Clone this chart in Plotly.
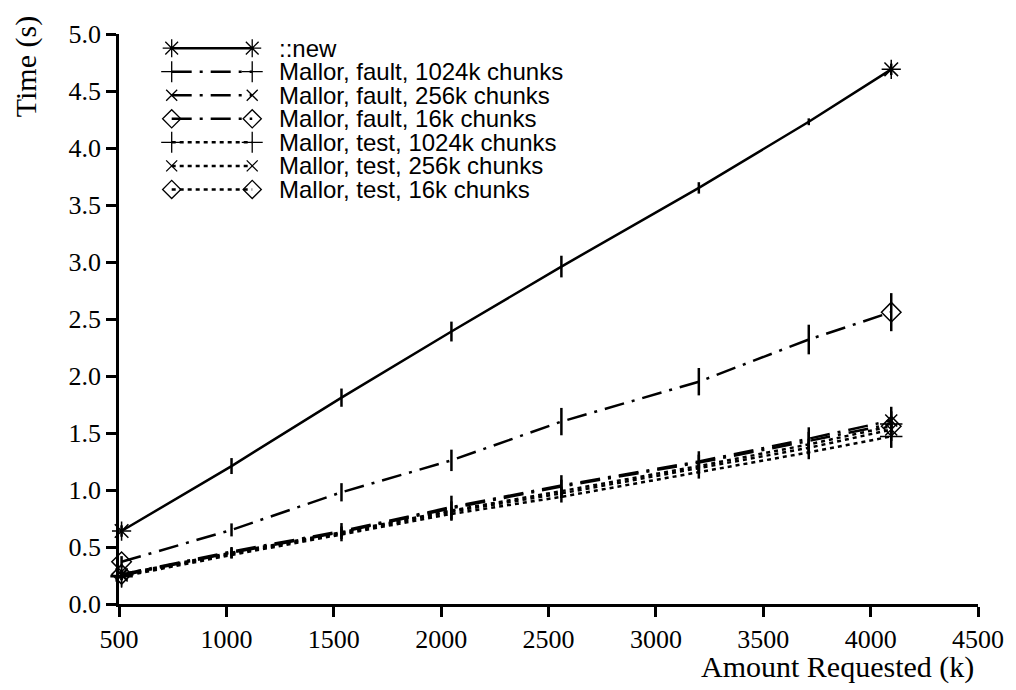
import plotly.graph_objects as go

# ---------------- data ----------------
amount_k = [512, 1024, 1536, 2048, 2560, 3200, 3712, 4096]

series_names = [
    "::new",
    "Mallor, fault, 1024k chunks",
    "Mallor, fault, 256k chunks",
    "Mallor, fault, 16k chunks",
    "Mallor, test, 1024k chunks",
    "Mallor, test, 256k chunks",
    "Mallor, test, 16k chunks",
]

t_new = [0.64, 1.21, 1.81, 2.39, 2.96, 3.65, 4.23, 4.69]
t_fault_1024 = [0.25, 0.45, 0.63, 0.84, 1.03, 1.24, 1.43, 1.58]
t_fault_256 = [0.26, 0.46, 0.64, 0.85, 1.04, 1.25, 1.45, 1.61]
t_fault_16 = [0.37, 0.65, 0.98, 1.26, 1.60, 1.95, 2.32, 2.56]
t_test_1024 = [0.24, 0.43, 0.61, 0.79, 0.94, 1.16, 1.33, 1.47]
t_test_256 = [0.25, 0.44, 0.62, 0.81, 0.97, 1.19, 1.37, 1.53]
t_test_16 = [0.26, 0.45, 0.63, 0.82, 0.99, 1.21, 1.40, 1.56]

e_new = [0.05, 0.07, 0.08, 0.087, 0.095, 0.05, 0.03, 0.05]
e_fault_1024 = [0.04, 0.05, 0.08, 0.11, 0.10, 0.10, 0.12, 0.15]
e_fault_256 = [0.03, 0.03, 0.04, 0.05, 0.05, 0.06, 0.06, 0.08]
e_fault_16 = [0.05, 0.057, 0.08, 0.094, 0.12, 0.12, 0.13, 0.167]
e_test_1024 = [0.03, 0.03, 0.04, 0.05, 0.05, 0.06, 0.06, 0.10]
e_test_256 = [0.02, 0.02, 0.03, 0.03, 0.04, 0.04, 0.05, 0.06]
e_test_16 = [0.02, 0.02, 0.03, 0.03, 0.04, 0.04, 0.05, 0.06]

series_values = [t_new, t_fault_1024, t_fault_256, t_fault_16,
                 t_test_1024, t_test_256, t_test_16]
series_errors = [e_new, e_fault_1024, e_fault_256, e_fault_16,
                 e_test_1024, e_test_256, e_test_16]

# ---------------- styles ----------------
DASHDOT = "20px,8px,3px,8px"
DOT = "4px,4px"
series_dash = ["solid", DASHDOT, DASHDOT, DASHDOT, DOT, DOT, DOT]
series_symbol = ["asterisk-open", "cross-thin-open", "x-thin-open", "diamond-open",
                 "cross-thin-open", "x-thin-open", "diamond-open"]
series_msize = [16, 16, 12, 15, 16, 12, 15]

# page body has an 8px margin; the figure is sized to fill the 1016x690 window
OFF = 8
W, H = 1016 - OFF, 690 - OFF
ML, MR, MT, MB = 119 - OFF, 33, 29 - OFF, 86
LW = 2.5
PX0, PX1 = ML + OFF, OFF + W - MR          # page pixel extent of the plot area
PY0, PY1 = OFF + MT, OFF + H - MB

fig = go.Figure()

for name, ys, es, dash, sym, ms in zip(series_names, series_values, series_errors,
                                       series_dash, series_symbol, series_msize):
    fig.add_trace(go.Scatter(
        x=amount_k, y=ys, mode="lines", name=name, showlegend=False,
        line=dict(color="black", width=LW, dash=dash),
        error_y=dict(type="data", array=es, width=0, thickness=2.5, color="black"),
        cliponaxis=False,
    ))
    fig.add_trace(go.Scatter(
        x=[amount_k[0], amount_k[-1]], y=[ys[0], ys[-1]], mode="markers",
        showlegend=False, cliponaxis=False,
        marker=dict(symbol=sym, size=ms, color="black",
                    line=dict(color="black", width=1.5)),
    ))

# ---------------- custom legend (page-pixel coordinates on hidden overlay axes) -------
LEG_X0, LEG_X1, LEG_TX = 172, 253, 278
LEG_Y0, LEG_DY = 43.3, 23.75
for i, (name, dash, sym, ms) in enumerate(zip(series_names, series_dash,
                                              series_symbol, series_msize)):
    yy = LEG_Y0 + i * LEG_DY
    fig.add_trace(go.Scatter(
        x=[LEG_X0, LEG_X1], y=[yy, yy], xaxis="x2", yaxis="y2",
        mode="lines+markers", showlegend=False, cliponaxis=False,
        line=dict(color="black", width=LW, dash=dash),
        marker=dict(symbol=sym, size=ms - 1, color="black",
                    line=dict(color="black", width=1.3)),
    ))
    fig.add_annotation(x=LEG_TX, y=yy, xref="x2", yref="y2", text=name,
                       showarrow=False, xanchor="left", yanchor="middle",
                       font=dict(family="Liberation Sans", size=24, color="black"))

serif = "Liberation Serif"
fig.update_layout(
    width=W, height=H,
    margin=dict(l=ML, r=MR, t=MT, b=MB),
    paper_bgcolor="white", plot_bgcolor="white",
    showlegend=False,
    xaxis=dict(range=[500, 4500], dtick=500, tick0=500, showgrid=False, zeroline=False,
               showline=True, linecolor="black", linewidth=LW,
               ticks="outside", ticklen=10, tickwidth=LW, tickcolor="black",
               tickfont=dict(family=serif, size=26, color="black")),
    yaxis=dict(range=[0, 5], dtick=0.5, tick0=0, tickformat=".1f", showgrid=False,
               zeroline=False, showline=True, linecolor="black", linewidth=LW,
               ticks="outside", ticklen=10, tickwidth=LW, tickcolor="black",
               tickfont=dict(family=serif, size=26, color="black")),
    xaxis2=dict(range=[PX0, PX1], overlaying="x", anchor="y2", visible=False),
    yaxis2=dict(range=[PY1, PY0], overlaying="y", anchor="x2", visible=False),
)


def to_paper(px, py):
    return (px - PX0) / (PX1 - PX0), (PY1 - py) / (PY1 - PY0)


tx, ty = to_paper(25, 62)
fig.add_annotation(text="Time (s)", xref="paper", yref="paper", x=tx, y=ty,
                   textangle=-90, showarrow=False, xanchor="center", yanchor="middle",
                   font=dict(family=serif, size=30, color="black"))
ax_, ay_ = to_paper(981, 668)
fig.add_annotation(text="Amount Requested (k)", xref="paper", yref="paper",
                   x=ax_, y=ay_, showarrow=False, xanchor="right", yanchor="middle",
                   font=dict(family=serif, size=30, color="black"))

fig.write_html("out.html")
